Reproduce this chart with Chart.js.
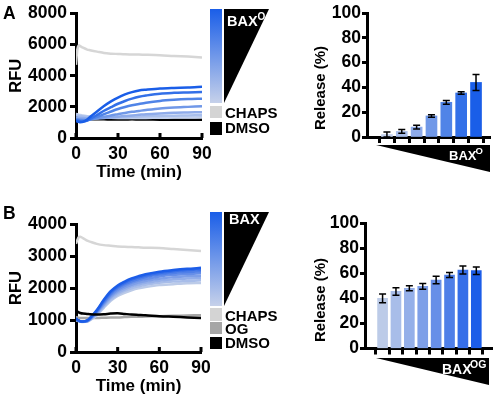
<!DOCTYPE html>
<html>
<head>
<meta charset="utf-8">
<script src="https://cdn.jsdelivr.net/npm/chart.js@4.4.0/dist/chart.umd.min.js"></script>
<style>
  body { margin: 0; background: #fff; }
  #wrap { position: relative; width: 498px; height: 399px; overflow: hidden; }
  canvas { position: absolute; }
  svg { position: absolute; left: 0; top: 0; pointer-events: none; }
</style>
</head>
<body>
<div id="wrap">
  <canvas id="timeA" width="220" height="185" style="left:0;top:0"></canvas>
  <canvas id="barA" width="208" height="150" style="left:290px;top:0"></canvas>
  <canvas id="timeB" width="220" height="199" style="left:0;top:200px"></canvas>
  <canvas id="barB" width="208" height="160" style="left:290px;top:200px"></canvas>

  <svg width="498" height="399" font-family="'Liberation Sans', Arial, sans-serif" font-weight="bold">
    <defs>
      <linearGradient id="gradA" x1="0" y1="0" x2="0" y2="1">
        <stop offset="0" stop-color="#1a5ee8"/>
        <stop offset="1" stop-color="#c6d1ea"/>
      </linearGradient>
      <linearGradient id="gradB" x1="0" y1="0" x2="0" y2="1">
        <stop offset="0" stop-color="#1a5ee8"/>
        <stop offset="1" stop-color="#c6d1ea"/>
      </linearGradient>
    </defs>
    <!-- panel letters -->
    <text x="3" y="18.5" font-size="17.5">A</text>
    <text x="3" y="218.5" font-size="17.5">B</text>

    <!-- legend A -->
    <rect x="210" y="9" width="12" height="94" fill="url(#gradA)"/>
    <polygon points="224,9 269,9 224,103" fill="#000"/>
    <text x="227" y="26" font-size="14.5" fill="#fff">BAX</text>
    <text x="257.5" y="19.5" font-size="10" fill="#fff">O</text>
    <rect x="210" y="106" width="12" height="12" fill="#d4d4d4"/>
    <text x="225" y="118.3" font-size="15">CHAPS</text>
    <rect x="210" y="122" width="12" height="13" fill="#000"/>
    <text x="225" y="133.3" font-size="15">DMSO</text>

    <!-- legend B -->
    <rect x="210" y="212" width="12" height="94" fill="url(#gradB)"/>
    <polygon points="224,212 269,212 224,306" fill="#000"/>
    <text x="229" y="224" font-size="14.5" fill="#fff">BAX</text>
    <rect x="210" y="308" width="12" height="13" fill="#d4d4d4"/>
    <text x="225" y="321" font-size="15">CHAPS</text>
    <rect x="210" y="322" width="12" height="12" fill="#a6a6a6"/>
    <text x="225" y="333.5" font-size="15">OG</text>
    <rect x="210" y="337" width="12" height="12" fill="#000"/>
    <text x="225" y="348" font-size="15">DMSO</text>

    <!-- dose wedges under bar charts -->
    <polygon points="376,145 490,145 490,172" fill="#000"/>
    <text x="449" y="160" font-size="13" fill="#fff">BAX</text>
    <text x="475.5" y="153.5" font-size="9.5" fill="#fff">O</text>
    <polygon points="376,358 489,358 489,385" fill="#000"/>
    <text x="442" y="374" font-size="14" fill="#fff">BAX</text>
    <text x="470" y="368.3" font-size="10.5" fill="#fff">OG</text>

    <!-- bar chart y titles -->
    <text transform="translate(325,88) rotate(-90)" text-anchor="middle" font-size="15">Release (%)</text>
    <text transform="translate(325,300) rotate(-90)" text-anchor="middle" font-size="15">Release (%)</text>
  </svg>
</div>

<script>
// ---- data ----
// time points (min)
var timeMin = [0, 1, 2, 3, 5, 8, 10, 15, 20, 25, 30, 35, 40, 45, 50, 60, 70, 80, 90];

// panel A kinetics (RFU), BAX lowest -> highest dose
var chapsA = [4700, 5700, 5950, 5900, 5800, 5680, 5640, 5550, 5460, 5420, 5400, 5380, 5370, 5360, 5350, 5320, 5270, 5230, 5180];
var dmsoA  = [1250, 1230, 1220, 1220, 1210, 1210, 1200, 1200, 1200, 1190, 1190, 1190, 1200, 1190, 1190, 1180, 1180, 1180, 1180];
var baxA1 = [1550, 1530, 1500, 1480, 1450, 1400, 1380, 1340, 1320, 1300, 1290, 1290, 1290, 1290, 1290, 1300, 1310, 1320, 1330];
var baxA2 = [1480, 1450, 1430, 1410, 1390, 1360, 1350, 1330, 1320, 1320, 1330, 1340, 1360, 1380, 1400, 1420, 1430, 1450, 1460];
var baxA3 = [1350, 1320, 1300, 1290, 1280, 1260, 1250, 1260, 1290, 1330, 1370, 1410, 1450, 1490, 1530, 1580, 1620, 1640, 1660];
var baxA4 = [1250, 1220, 1200, 1190, 1180, 1170, 1180, 1260, 1360, 1450, 1530, 1610, 1680, 1740, 1800, 1900, 1960, 2000, 2040];
var baxA5 = [1200, 1170, 1150, 1130, 1120, 1130, 1180, 1350, 1530, 1700, 1860, 1990, 2100, 2190, 2270, 2380, 2450, 2500, 2530];
var baxA6 = [1150, 1120, 1100, 1080, 1060, 1120, 1220, 1480, 1750, 1980, 2200, 2380, 2530, 2650, 2730, 2850, 2900, 2930, 2960];
var baxA7 = [1100, 1060, 1040, 1020, 1040, 1180, 1350, 1700, 2050, 2350, 2600, 2800, 2950, 3050, 3100, 3180, 3220, 3250, 3300];

// panel B kinetics (RFU)
var chapsB = [3380, 3500, 3590, 3600, 3560, 3480, 3450, 3380, 3340, 3320, 3300, 3290, 3280, 3270, 3260, 3250, 3220, 3190, 3160];
var ogB    = [1100, 1080, 1070, 1060, 1060, 1060, 1060, 1060, 1070, 1080, 1080, 1090, 1100, 1100, 1110, 1120, 1130, 1140, 1150];
var dmsoB  = [1310, 1270, 1240, 1220, 1200, 1190, 1180, 1170, 1180, 1200, 1210, 1190, 1170, 1160, 1150, 1120, 1100, 1080, 1060];
var baxB1 = [1000, 980, 960, 950, 940, 950, 990, 1150, 1380, 1600, 1750, 1850, 1930, 1990, 2030, 2090, 2120, 2150, 2160];
var baxB2 = [1010, 985, 965, 955, 945, 955, 1000, 1180, 1420, 1640, 1800, 1910, 1990, 2050, 2100, 2160, 2200, 2220, 2240];
var baxB3 = [1020, 990, 970, 960, 945, 960, 1010, 1200, 1460, 1690, 1850, 1960, 2050, 2110, 2160, 2230, 2270, 2300, 2310];
var baxB4 = [1030, 995, 975, 960, 950, 965, 1020, 1230, 1490, 1730, 1900, 2010, 2100, 2170, 2220, 2290, 2340, 2370, 2380];
var baxB5 = [1030, 1000, 975, 960, 950, 970, 1030, 1250, 1530, 1780, 1950, 2070, 2160, 2230, 2280, 2360, 2410, 2440, 2460];
var baxB6 = [1040, 1000, 980, 960, 950, 975, 1040, 1270, 1560, 1820, 2000, 2120, 2210, 2280, 2340, 2420, 2470, 2500, 2520];
var baxB7 = [1050, 1000, 980, 960, 950, 980, 1050, 1290, 1600, 1860, 2040, 2160, 2260, 2330, 2390, 2470, 2520, 2560, 2580];
var baxB8 = [1060, 1005, 985, 965, 950, 985, 1060, 1310, 1630, 1900, 2080, 2200, 2300, 2370, 2430, 2510, 2560, 2600, 2630];

// release bars (%), dose index 1..n
var doseA = [1, 2, 3, 4, 5, 6, 7];
var releaseA = [2, 4.5, 8, 17, 28, 35.5, 44];
var errA = [2, 1.5, 1.5, 1, 1.5, 1, 6.5];
var doseB = [1, 2, 3, 4, 5, 6, 7, 8];
var releaseB = [40, 45.5, 48, 49.5, 54.5, 58.5, 62.5, 62];
var errB = [3.5, 3, 2, 2.3, 3, 2, 3.2, 3];

// colours (light -> dark)
var blueA = ['#c3d1ee', '#a9bfec', '#8eabea', '#7098e8', '#5084e7', '#3370e8', '#1a5ee8'];
var blueB = ['#bccbe8', '#a8bde9', '#94afe9', '#7e9fe8', '#678fe8', '#4f7fe8', '#366ee8', '#1c5de8'];

Chart.defaults.font.family = "'Liberation Sans', Arial, Helvetica, sans-serif";
Chart.defaults.font.weight = 'bold';
Chart.defaults.color = '#000';

function pts(ys) {
  return ys.map(function (v, i) { return { x: timeMin[i], y: v }; });
}
function line(ys, col) {
  return { data: pts(ys), borderColor: col, borderWidth: 2.5, pointRadius: 0, tension: 0.3, fill: false };
}

// x ticks pointing up into the plot
var innerTicks = {
  id: 'innerTicks',
  afterDraw: function (chart) {
    var ctx = chart.ctx, x = chart.scales.x, a = chart.chartArea;
    ctx.save();
    ctx.strokeStyle = '#000';
    ctx.lineWidth = 3;
    x.ticks.forEach(function (t) {
      var px = x.getPixelForValue(t.value);
      ctx.beginPath();
      ctx.moveTo(px, a.bottom);
      ctx.lineTo(px, a.bottom - 5);
      ctx.stroke();
    });
    ctx.restore();
  }
};

// error bars from the err arrays
var errBars = {
  id: 'errBars',
  afterDatasetsDraw: function (chart, args, opts) {
    var ctx = chart.ctx, y = chart.scales.y;
    var meta = chart.getDatasetMeta(0);
    var vals = chart.data.datasets[0].data;
    ctx.save();
    ctx.strokeStyle = '#000';
    ctx.lineWidth = 1.5;
    meta.data.forEach(function (bar, i) {
      var v = vals[i].y, e = opts.err[i];
      var top = y.getPixelForValue(v + e), bot = y.getPixelForValue(Math.max(v - e, 0));
      ctx.beginPath();
      ctx.moveTo(bar.x, top); ctx.lineTo(bar.x, bot);
      ctx.moveTo(bar.x - 3.5, top); ctx.lineTo(bar.x + 3.5, top);
      ctx.moveTo(bar.x - 3.5, bot); ctx.lineTo(bar.x + 3.5, bot);
      ctx.stroke();
    });
    ctx.restore();
  }
};

function timeOptions(top, right, xh, ymax, ystep) {
  return {
    responsive: false,
    animation: false,
    layout: { padding: { top: top, right: right, left: 0, bottom: 0 } },
    plugins: { legend: { display: false }, tooltip: { enabled: false } },
    scales: {
      x: {
        type: 'linear', min: 0, max: 90,
        afterFit: function (s) { s.height = xh; },
        grid: { drawOnChartArea: false, drawTicks: false },
        border: { color: '#000', width: 3 },
        ticks: { stepSize: 30, padding: 6, maxRotation: 0, autoSkip: false,
                 font: { size: 17.5, weight: 'bold' }, callback: function (v) { return String(v); } },
        title: { display: true, text: 'Time (min)', font: { size: 17, weight: 'bold' },
                 padding: { top: 0, bottom: 2.8 } }
      },
      y: {
        min: 0, max: ymax,
        afterFit: function (s) { s.width = 76; },
        grid: { drawOnChartArea: false, tickLength: 6, tickWidth: 3, tickColor: '#000' },
        border: { color: '#000', width: 3 },
        ticks: { stepSize: ystep, padding: 3, autoSkip: false,
                 font: { size: 17.5, weight: 'bold' }, callback: function (v) { return String(v); } },
        title: { display: true, text: 'RFU', font: { size: 16.5, weight: 'bold' },
                 padding: { top: 6.2, bottom: 0 } }
      }
    }
  };
}

function barOptions(top, right, yw, xh, xmin, xmax, doses, err) {
  return {
    responsive: false,
    animation: false,
    layout: { padding: { top: top, right: right, left: 0, bottom: 0 } },
    plugins: { legend: { display: false }, tooltip: { enabled: false }, errBars: { err: err } },
    scales: {
      x: {
        type: 'linear', min: xmin, max: xmax, z: 1,
        afterBuildTicks: function (s) { s.ticks = doses.map(function (d) { return { value: d }; }); },
        afterFit: function (s) { s.height = xh; },
        grid: { drawOnChartArea: false, tickLength: 6, tickWidth: 3, tickColor: '#000' },
        border: { color: '#000', width: 3 },
        ticks: { padding: 0, callback: function () { return ''; } }
      },
      y: {
        min: 0, max: 100,
        afterFit: function (s) { s.width = yw; },
        grid: { drawOnChartArea: false, tickLength: 5, tickWidth: 3, tickColor: '#000' },
        border: { color: '#000', width: 3 },
        ticks: { stepSize: 20, padding: 1, autoSkip: false,
                 font: { size: 17.5, weight: 'bold' }, callback: function (v) { return String(v); } }
      }
    }
  };
}

// panel A kinetics (first dataset is drawn on top)
new Chart(document.getElementById('timeA'), {
  type: 'line',
  data: { datasets: [
    line(baxA7, blueA[6]), line(baxA6, blueA[5]), line(baxA5, blueA[4]), line(baxA4, blueA[3]),
    line(baxA3, blueA[2]), line(baxA2, blueA[1]), line(baxA1, blueA[0]),
    line(chapsA, '#d6d6d6'), line(dmsoA, '#000')
  ] },
  options: timeOptions(12, 18, 47, 8000, 2000),
  plugins: [innerTicks]
});

// panel B kinetics
new Chart(document.getElementById('timeB'), {
  type: 'line',
  data: { datasets: [
    line(dmsoB, '#000'),
    line(baxB8, blueB[7]), line(baxB7, blueB[6]), line(baxB6, blueB[5]), line(baxB5, blueB[4]),
    line(baxB4, blueB[3]), line(baxB3, blueB[2]), line(baxB2, blueB[1]), line(baxB1, blueB[0]),
    line(ogB, '#a6a6a6'), line(chapsB, '#d6d6d6')
  ] },
  options: timeOptions(24, 19, 47, 4000, 1000),
  plugins: [innerTicks]
});

// release bars A
new Chart(document.getElementById('barA'), {
  type: 'bar',
  data: { datasets: [{
    data: doseA.map(function (d, i) { return { x: d, y: releaseA[i] }; }),
    backgroundColor: blueA, borderWidth: 0, barThickness: 11
  }] },
  options: barOptions(13, 8, 77, 13, 0.25, 7.35, doseA, errA),
  plugins: [errBars]
});

// release bars B
new Chart(document.getElementById('barB'), {
  type: 'bar',
  data: { datasets: [{
    data: doseB.map(function (d, i) { return { x: d, y: releaseB[i] }; }),
    backgroundColor: blueB, borderWidth: 0, barThickness: 10
  }] },
  options: barOptions(23, 6, 75, 9, 0.28, 8.58, doseB, errB),
  plugins: [errBars]
});
</script>
</body>
</html>
